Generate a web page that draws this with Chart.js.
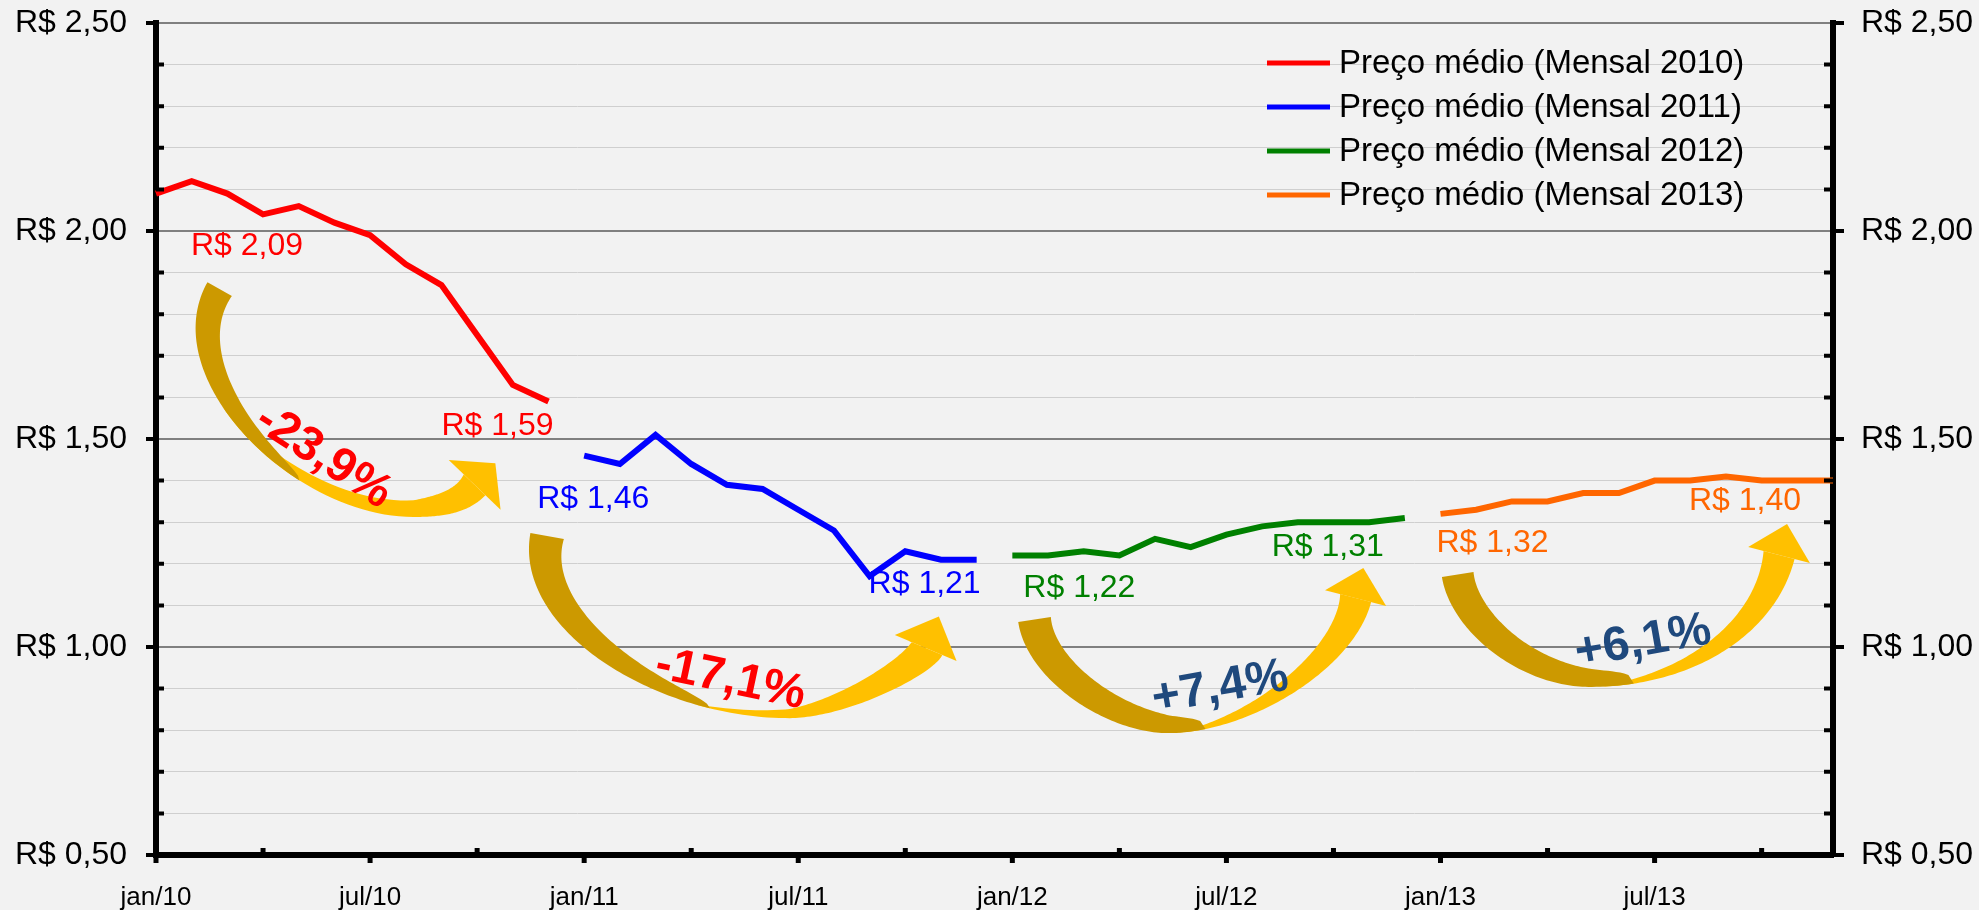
<!DOCTYPE html>
<html>
<head>
<meta charset="utf-8">
<script src="https://cdn.jsdelivr.net/npm/chart.js@4.4.1/dist/chart.umd.min.js"></script>
<style>
  html, body { margin: 0; padding: 0; background: #f2f2f2; }
  #wrap { width: 1979px; height: 910px; }
</style>
</head>
<body>
<div id="wrap"><canvas id="myChart"></canvas></div>
<script>
// categories
var months = ['jan', 'fev', 'mar', 'abr', 'mai', 'jun', 'jul', 'ago', 'set', 'out', 'nov', 'dez'];
var years = ['10', '11', '12', '13'];

// monthly average price per year
var price2010 = [2.09, 2.12, 2.09, 2.04, 2.06, 2.02, 1.99, 1.92, 1.87, 1.75, 1.63, 1.59];
var price2011 = [1.46, 1.44, 1.51, 1.44, 1.39, 1.38, 1.33, 1.28, 1.17, 1.23, 1.21, 1.21];
var price2012 = [1.22, 1.22, 1.23, 1.22, 1.26, 1.24, 1.27, 1.29, 1.30, 1.30, 1.30, 1.31];
var price2013 = [1.32, 1.33, 1.35, 1.35, 1.37, 1.37, 1.40, 1.40, 1.41, 1.40, 1.40, 1.40];

var seriesNames = ['Preço médio (Mensal 2010)', 'Preço médio (Mensal 2011)', 'Preço médio (Mensal 2012)', 'Preço médio (Mensal 2013)'];
var changes = ['-23,9%', '-17,1%', '+7,4%', '+6,1%'];

// y axis
var yMin = 0.5;
var yMax = 2.5;
var yMinorStep = 0.1;

var labels = [];
years.forEach(function (y) {
  months.forEach(function (m) { labels.push(m + '/' + y); });
});

function place(values, start) {
  var arr = [];
  for (var i = 0; i < labels.length; i++) arr.push(null);
  values.forEach(function (v, i) { arr[start + i] = v; });
  return arr;
}
function isMajor(v) {
  return Math.abs(v * 2 - Math.round(v * 2)) < 1e-6;
}
function money(v) {
  return 'R$ ' + v.toFixed(2).replace('.', ',');
}

Chart.defaults.font.family = '"Liberation Sans", Arial, sans-serif';
Chart.defaults.color = '#000';

var colors = ['#FF0000', '#0000FF', '#008000', '#FF6600'];
var allPrices = [price2010, price2011, price2012, price2013];

// first / last value labels, offsets from the point
var valueLabels = [
  {ds: 0, at: 'first', dx: 35, dy: 53, align: 'left'},
  {ds: 0, at: 'last', dx: 5, dy: 25, align: 'right'},
  {ds: 1, at: 'first', dx: -47, dy: 44, align: 'left'},
  {ds: 1, at: 'last', dx: 4, dy: 25, align: 'right'},
  {ds: 2, at: 'first', dx: 11, dy: 33, align: 'left'},
  {ds: 2, at: 'last', dx: -21, dy: 29, align: 'right'},
  {ds: 3, at: 'first', dx: -4, dy: 29, align: 'left'},
  {ds: 3, at: 'last', dx: -32, dy: 21, align: 'right'}
];

// curved arrows, anchors in (month index, price)
var arrowShapes = [
  {tail: [1.443, 1.877], bottom: [7.215, 1.3125], end: [9.233, 1.365], tailDir: [-0.49, 0.87], endDir: [0.69, -0.72],
   kA: 110, kB: 120, kC: 30, kD: 25, wTail: 28, darkEnd: 0.34, darkPow: 0.5, wHead: 30, lightStart: 0.2, lightPow: 0.6, wing: 21, headLen: 30},
  {tail: [10.493, 1.274], bottom: [17.722, 0.829], end: [22.037, 0.981], tailDir: [-0.174, 0.985], endDir: [0.387, -0.922],
   kA: 100, kB: 130, kC: 60, kD: 20, wTail: 34, darkEnd: 0.4, darkPow: 0.5, wHead: 36, lightStart: 0.38, lightPow: 0.85, wing: 15.5, headLen: 34},
  {tail: [24.165, 1.06], bottom: [28.367, 0.793], end: [34.055, 1.108], tailDir: [0.15, 0.989], endDir: [0.25, -0.97],
   kA: 60, kB: 60, kC: 80, kD: 70, wTail: 33, darkEnd: 0.575, darkPow: 0.3, wHead: 32, lightStart: 0.52, lightPow: 0.9, wing: 15.5, headLen: 31},
  {tail: [36.04, 1.168], bottom: [40.19, 0.904], end: [45.923, 1.2115], tailDir: [0.16, 0.987], endDir: [0.25, -0.97],
   kA: 55, kB: 70, kC: 100, kD: 80, wTail: 32, darkEnd: 0.575, darkPow: 0.28, wHead: 32, lightStart: 0.52, lightPow: 0.9, wing: 15.8, headLen: 32}
];
var changeText = [
  {pos: [4.693, 1.457], angle: 33, color: '#FF0000'},
  {pos: [16.097, 0.921], angle: 12, color: '#FF0000'},
  {pos: [29.826, 0.901], angle: -10, color: '#1F497D'},
  {pos: [41.68, 1.012], angle: -10, color: '#1F497D'}
];

function bez(p0, p1, p2, p3, u) {
  var a = (1 - u) * (1 - u) * (1 - u), b = 3 * (1 - u) * (1 - u) * u, c = 3 * (1 - u) * u * u, d = u * u * u;
  var da = -3 * (1 - u) * (1 - u), db = 3 * (1 - u) * (1 - u) - 6 * (1 - u) * u, dc = 6 * (1 - u) * u - 3 * u * u, dd = 3 * u * u;
  return {
    x: a * p0[0] + b * p1[0] + c * p2[0] + d * p3[0],
    y: a * p0[1] + b * p1[1] + c * p2[1] + d * p3[1],
    tx: da * p0[0] + db * p1[0] + dc * p2[0] + dd * p3[0],
    ty: da * p0[1] + db * p1[1] + dc * p2[1] + dd * p3[1]
  };
}

function drawArrow(ctx, xs, ys, a) {
  var T = [xs.getPixelForValue(a.tail[0]), ys.getPixelForValue(a.tail[1])];
  var B = [xs.getPixelForValue(a.bottom[0]), ys.getPixelForValue(a.bottom[1])];
  var E = [xs.getPixelForValue(a.end[0]), ys.getPixelForValue(a.end[1])];
  var segA = [T, [T[0] + a.tailDir[0] * a.kA, T[1] + a.tailDir[1] * a.kA], [B[0] - a.kB, B[1]], B];
  var segB = [B, [B[0] + a.kC, B[1]], [E[0] - a.endDir[0] * a.kD, E[1] - a.endDir[1] * a.kD], E];

  function outer(s) {
    var p = s < 0.5 ? bez(segA[0], segA[1], segA[2], segA[3], s * 2) : bez(segB[0], segB[1], segB[2], segB[3], (s - 0.5) * 2);
    var len = Math.sqrt(p.tx * p.tx + p.ty * p.ty) || 1;
    p.nx = p.ty / len; p.ny = -p.tx / len;
    return p;
  }
  function band(s0, s1, widthAt, color) {
    var n = 80, outs = [], ins = [];
    for (var i = 0; i <= n; i++) {
      var s = s0 + (s1 - s0) * i / n;
      var p = outer(s), w = widthAt(s);
      outs.push([p.x, p.y]);
      ins.push([p.x + p.nx * w, p.y + p.ny * w]);
    }
    ctx.beginPath();
    ctx.moveTo(outs[0][0], outs[0][1]);
    outs.forEach(function (q) { ctx.lineTo(q[0], q[1]); });
    for (var j = ins.length - 1; j >= 0; j--) ctx.lineTo(ins[j][0], ins[j][1]);
    ctx.closePath();
    ctx.fillStyle = color;
    ctx.fill();
  }

  // front (light) part with the head
  band(a.lightStart, 1, function (s) {
    return a.wHead * Math.pow(Math.max(0, (s - a.lightStart) / (1 - a.lightStart)), a.lightPow);
  }, '#FFC000');
  var nx = a.endDir[1], ny = -a.endDir[0];
  var mx = E[0] + nx * a.wHead / 2, my = E[1] + ny * a.wHead / 2;
  var half = a.wHead / 2 + a.wing;
  ctx.beginPath();
  ctx.moveTo(mx + nx * half, my + ny * half);
  ctx.lineTo(mx + a.endDir[0] * a.headLen, my + a.endDir[1] * a.headLen);
  ctx.lineTo(mx - nx * half, my - ny * half);
  ctx.closePath();
  ctx.fill();

  // back (dark) part from the tail
  band(0, a.darkEnd, function (s) {
    return a.wTail * Math.pow(Math.max(0, 1 - s / a.darkEnd), a.darkPow);
  }, '#CC9900');
}

var arrowPlugin = {
  id: 'curvedArrows',
  afterDatasetsDraw: function (chart) {
    var ctx = chart.ctx;
    ctx.save();
    arrowShapes.forEach(function (a) { drawArrow(ctx, chart.scales.x, chart.scales.y, a); });
    ctx.restore();
  }
};

var textPlugin = {
  id: 'chartTexts',
  afterDraw: function (chart) {
    var ctx = chart.ctx, xs = chart.scales.x, ys = chart.scales.y, area = chart.chartArea;
    ctx.save();

    // axis tick marks
    ctx.strokeStyle = '#000';
    ctx.lineWidth = 4;
    ys.ticks.forEach(function (t) {
      var py = ys.getPixelForValue(t.value);
      ctx.beginPath();
      if (isMajor(t.value)) {
        ctx.moveTo(area.left - 10, py); ctx.lineTo(area.left, py);
        ctx.moveTo(area.right, py); ctx.lineTo(area.right + 11, py);
      } else {
        ctx.moveTo(area.left, py); ctx.lineTo(area.left + 8, py);
        ctx.moveTo(area.right - 9, py); ctx.lineTo(area.right, py);
      }
      ctx.stroke();
    });
    ctx.lineWidth = 5;
    labels.forEach(function (l, i) {
      if (i % 3) return;
      var px = xs.getPixelForValue(i);
      ctx.beginPath();
      if (i % 6 === 0) { ctx.moveTo(px, area.bottom); ctx.lineTo(px, area.bottom + 8); }
      else { ctx.moveTo(px, area.bottom - 7); ctx.lineTo(px, area.bottom); }
      ctx.stroke();
    });

    // first / last values
    ctx.font = '32px "Liberation Sans", Arial, sans-serif';
    ctx.textBaseline = 'middle';
    valueLabels.forEach(function (v) {
      var ds = chart.data.datasets[v.ds];
      var start = v.ds * 12;
      var idx = v.at === 'first' ? start : start + allPrices[v.ds].length - 1;
      var pt = chart.getDatasetMeta(v.ds).data[idx];
      ctx.fillStyle = ds.borderColor;
      ctx.textAlign = v.align;
      ctx.fillText(money(ds.data[idx]), pt.x + v.dx, pt.y + v.dy);
    });

    // percent changes
    ctx.font = 'bold 48px "Liberation Sans", Arial, sans-serif';
    ctx.textAlign = 'center';
    changeText.forEach(function (c, i) {
      ctx.save();
      ctx.translate(xs.getPixelForValue(c.pos[0]), ys.getPixelForValue(c.pos[1]));
      ctx.rotate(c.angle * Math.PI / 180);
      ctx.fillStyle = c.color;
      ctx.fillText(changes[i], 0, 0);
      ctx.restore();
    });

    // legend inside the plot
    ctx.font = '33px "Liberation Sans", Arial, sans-serif';
    ctx.textAlign = 'left';
    chart.data.datasets.forEach(function (ds, i) {
      var y = area.top + 40 + i * 44;
      var x = area.right - 566;
      ctx.strokeStyle = ds.borderColor;
      ctx.lineWidth = 5;
      ctx.beginPath(); ctx.moveTo(x, y); ctx.lineTo(x + 63, y); ctx.stroke();
      ctx.fillStyle = '#000';
      ctx.fillText(ds.label, x + 72, y + 1);
    });
    ctx.restore();
  }
};

var datasets = allPrices.map(function (p, i) {
  return {
    label: seriesNames[i],
    data: place(p, i * 12),
    borderColor: colors[i],
    backgroundColor: colors[i],
    borderWidth: 6,
    pointRadius: 0,
    tension: 0,
    fill: false,
    spanGaps: false
  };
});

var yTicks = {
  stepSize: yMinorStep,
  autoSkip: false,
  color: '#000',
  font: {size: 32},
  callback: function (v) { return isMajor(v) ? money(v) : ''; }
};

// fixed axis sizes so the plot box lands where the original one is
function fixY(width) {
  return function (s) {
    s.width = width;
    s.paddingTop = 0;
    s.paddingBottom = 0;
  };
}

var ctx = document.getElementById('myChart');
var myLineChart = new Chart(ctx, {
  type: 'line',
  data: {labels: labels, datasets: datasets},
  options: {
    responsive: true,
    maintainAspectRatio: false,
    animation: false,
    layout: {padding: {top: 23, left: 0, right: 0, bottom: 0}},
    plugins: {legend: {display: false}, tooltip: {enabled: false}},
    scales: {
      x: {
        offset: false,
        grid: {display: false, drawTicks: false},
        border: {display: true, color: '#000', width: 6},
        ticks: {
          autoSkip: false, maxRotation: 0, minRotation: 0, padding: 27,
          color: '#000', font: {size: 26},
          callback: function (v, i) { return i % 6 === 0 ? labels[i] : ''; }
        },
        afterFit: function (s) { s.height = 55; s.paddingLeft = 0; s.paddingRight = 0; }
      },
      y: {
        position: 'left', min: yMin, max: yMax,
        ticks: Object.assign({padding: 29}, yTicks),
        grid: {
          drawTicks: false,
          color: function (c) { return c.tick && isMajor(c.tick.value) ? '#808080' : '#CFCFCF'; },
          lineWidth: function (c) { return c.tick && isMajor(c.tick.value) ? 2 : 1; }
        },
        border: {display: true, color: '#000', width: 6},
        afterFit: fixY(156)
      },
      y2: {
        position: 'right', min: yMin, max: yMax,
        ticks: Object.assign({padding: 28}, yTicks),
        grid: {display: false, drawTicks: false},
        border: {display: true, color: '#000', width: 6},
        afterFit: fixY(146)
      }
    }
  },
  plugins: [arrowPlugin, textPlugin]
});
</script>
</body>
</html>
